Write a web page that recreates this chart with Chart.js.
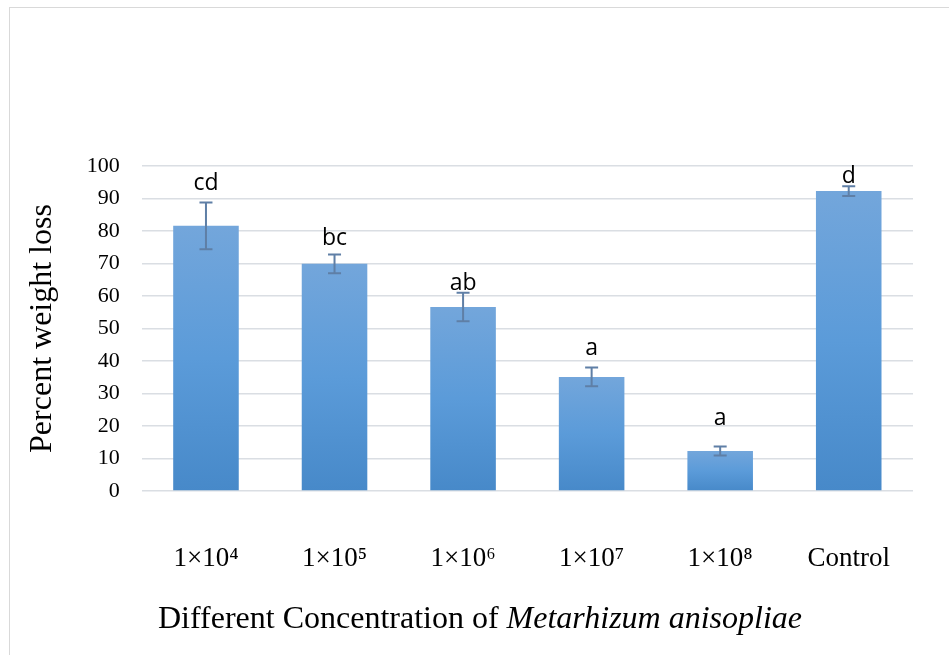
<!DOCTYPE html>
<html>
<head>
<meta charset="utf-8">
<script src="https://cdn.jsdelivr.net/npm/chart.js@4"></script>
<style>
  html, body { margin: 0; padding: 0; background: #fff; }
  canvas { display: block; }
</style>
</head>
<body>
<canvas id="chart" width="949" height="655"></canvas>
<script>
// values
const categories = ['1×10⁴', '1×10⁵', '1×10⁶', '1×10⁷', '1×10⁸', 'Control'];
const weightLoss = [81.6, 69.9, 56.6, 35.1, 12.3, 92.3];
const errors = [7.2, 2.9, 4.4, 2.9, 1.4, 1.5];
const letters = ['cd', 'bc', 'ab', 'a', 'a', 'd'];
const letterAt = [92.6, 75.7, 61.8, 41.8, 20.3, 94.8];
const yTicks = [0, 10, 20, 30, 40, 50, 60, 70, 80, 90, 100];

const yTitle = 'Percent weight loss';
const xTitlePlain = 'Different Concentration of ';
const xTitleItalic = 'Metarhizum anisopliae';

const serif = '"Liberation Serif", "Times New Roman", serif';

function barFill(ctx) {
  const chart = ctx.chart;
  const y = chart.scales && chart.scales.y;
  if (!y || ctx.raw == null) return '#5b9bd5';
  const top = y.getPixelForValue(ctx.raw);
  const base = y.getPixelForValue(0);
  if (!isFinite(top) || !isFinite(base) || top === base) return '#5b9bd5';
  const g = chart.ctx.createLinearGradient(0, top, 0, base);
  g.addColorStop(0, '#73a6db');
  g.addColorStop(0.5, '#5b9bd9');
  g.addColorStop(1, '#4789c9');
  return g;
}

const extras = {
  id: 'extras',
  beforeDraw(chart) {
    const c = chart.ctx;
    c.save();
    c.strokeStyle = '#d9d9d9';
    c.lineWidth = 1;
    c.strokeRect(9.5, 7.5, 1200, 1200);
    c.restore();
  },
  afterDatasetsDraw(chart) {
    const c = chart.ctx;
    const x = chart.scales.x, y = chart.scales.y;
    c.save();
    // error bars
    c.strokeStyle = '#5f7fa6';
    c.lineWidth = 2;
    weightLoss.forEach((v, i) => {
      const cx = x.getPixelForValue(i);
      const hi = y.getPixelForValue(v + errors[i]);
      const lo = y.getPixelForValue(v - errors[i]);
      c.beginPath();
      c.moveTo(cx, hi); c.lineTo(cx, lo);
      c.moveTo(cx - 6.5, hi); c.lineTo(cx + 6.5, hi);
      c.moveTo(cx - 6.5, lo); c.lineTo(cx + 6.5, lo);
      c.stroke();
    });
    // significance letters
    c.fillStyle = '#000';
    c.font = '23px "Open Sans", sans-serif';
    c.textAlign = 'center';
    c.textBaseline = 'alphabetic';
    letters.forEach((t, i) => {
      c.fillText(t, x.getPixelForValue(i), y.getPixelForValue(letterAt[i]));
    });
    // x axis title, part italic
    const plainFont = '32px ' + serif;
    const italicFont = 'italic 32px ' + serif;
    c.font = plainFont;
    const w1 = c.measureText(xTitlePlain).width;
    c.font = italicFont;
    const w2 = c.measureText(xTitleItalic).width;
    const start = 480 - (w1 + w2) / 2;
    c.textAlign = 'left';
    c.font = plainFont;
    c.fillText(xTitlePlain, start, 628);
    c.font = italicFont;
    c.fillText(xTitleItalic, start + w1, 628);
    c.restore();
  }
};

new Chart(document.getElementById('chart').getContext('2d'), {
  type: 'bar',
  data: {
    labels: categories,
    datasets: [{
      label: 'Percent weight loss',
      data: weightLoss,
      backgroundColor: barFill,
      borderWidth: 0,
      categoryPercentage: 1,
      barPercentage: 0.51,
    }]
  },
  options: {
    responsive: false,
    animation: false,
    layout: { padding: { top: 166, right: 36, bottom: 0, left: 0 } },
    plugins: {
      legend: { display: false },
      tooltip: { enabled: false },
    },
    scales: {
      x: {
        grid: { display: false, drawTicks: false },
        border: { display: false },
        ticks: {
          color: '#000',
          font: { family: serif, size: 27 },
          padding: 52,
          maxRotation: 0,
        },
        afterFit(s) { s.height = 164; },
      },
      y: {
        min: 0,
        max: 100,
        afterBuildTicks(s) { s.ticks = yTicks.map(v => ({ value: v })); },
        grid: { color: '#dadee3', lineWidth: 1.5, drawTicks: false },
        border: { display: false },
        ticks: {
          color: '#000',
          font: { family: serif, size: 22 },
          padding: 22,
        },
        title: {
          display: true,
          text: yTitle,
          color: '#000',
          font: { family: serif, size: 32 },
          padding: { top: 23, bottom: 0 },
        },
        afterFit(s) { s.width = 141.7; },
      }
    }
  },
  plugins: [extras],
});
</script>
</body>
</html>
